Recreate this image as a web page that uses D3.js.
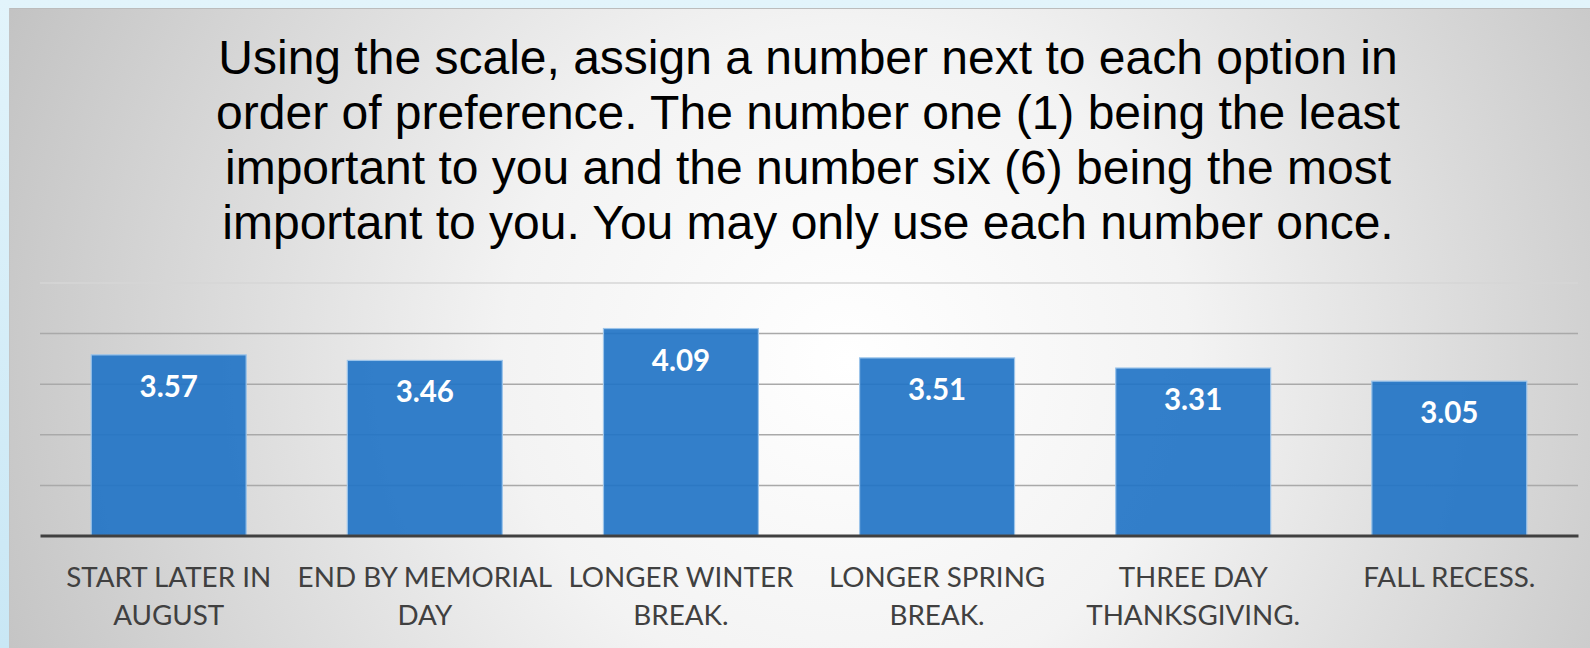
<!DOCTYPE html>
<html>
<head>
<meta charset="utf-8">
<script src="https://cdn.jsdelivr.net/npm/d3@7"></script>
<style>
  html, body { margin: 0; padding: 0; background: #dff2fa; }
  svg { display: block; }
</style>
</head>
<body>
<div id="chart"></div>
<script>
// chart data
const categories = [
    ["START LATER IN", "AUGUST"],
    ["END BY MEMORIAL", "DAY"],
    ["LONGER WINTER", "BREAK."],
    ["LONGER SPRING", "BREAK."],
    ["THREE DAY", "THANKSGIVING."],
    ["FALL RECESS."]
];
const values = [3.57, 3.46, 4.09, 3.51, 3.31, 3.05];
const gridTicks = [1, 2, 3, 4, 5];
const titleLines = [
    "Using the scale, assign a number next to each option in",
    "order of preference. The number one (1) being the least",
    "important to you and the number six (6) being the most",
    "important to you. You may only use each number once."
];

const width = 1590, height = 648;
const margin = {top: 282.5, right: 12, bottom: 112.5, left: 40};

const svg = d3.select("#chart").append("svg").attr("width", width).attr("height", height);
const defs = svg.append("defs");

// outer light blue frame
const frame = defs.append("linearGradient").attr("id", "frame").attr("x1", 0).attr("x2", 0).attr("y1", 0).attr("y2", 1);
frame.append("stop").attr("offset", "0%").attr("stop-color", "#e2f4fb");
frame.append("stop").attr("offset", "100%").attr("stop-color", "#c9e7f5");
svg.append("rect").attr("width", width).attr("height", height).attr("fill", "url(#frame)");

// panel background
const bg = defs.append("radialGradient").attr("id", "bg")
    .attr("cx", "0.53").attr("cy", "0.55").attr("r", "0.62")
    .attr("gradientTransform", "translate(0.53,0.55) scale(1,2.4) translate(-0.53,-0.55)");
bg.append("stop").attr("offset", "0%").attr("stop-color", "#ffffff");
bg.append("stop").attr("offset", "35%").attr("stop-color", "#f3f3f3");
bg.append("stop").attr("offset", "100%").attr("stop-color", "#bdbdbd");
svg.append("rect").attr("x", 9).attr("y", 8).attr("width", width - 9).attr("height", height - 8)
    .attr("fill", "url(#bg)");
svg.append("line").attr("x1", 9).attr("x2", width).attr("y1", 8.5).attr("y2", 8.5)
    .attr("stroke", "#bcbcbc").attr("stroke-width", 1);
svg.append("line").attr("x1", 9.5).attr("x2", 9.5).attr("y1", 8).attr("y2", height)
    .attr("stroke", "#c4c4c4").attr("stroke-width", 1);

// title
svg.append("text")
    .attr("text-anchor", "middle")
    .style("font-family", "'Liberation Sans', Arial, sans-serif")
    .style("font-size", "48px")
    .style("fill", "#000")
    .selectAll("tspan").data(titleLines).enter().append("tspan")
    .attr("x", 808).attr("y", (d, i) => 74 + i * 55)
    .text(d => d);

// scales
const xScale = d3.scaleBand().domain(d3.range(categories.length))
    .range([margin.left, width - margin.right]).paddingInner(0.395).paddingOuter(0.2);
const yScale = d3.scaleLinear().domain([0, 5]).range([height - margin.bottom, margin.top]);

// gridlines
const grid = svg.append("g").attr("transform", `translate(${margin.left}, 0)`)
    .call(d3.axisLeft(yScale).tickValues(gridTicks).tickSize(-(width - margin.right - margin.left)).tickFormat(""));
grid.select(".domain").remove();
grid.selectAll(".tick line").attr("stroke", d => d === 5 ? "#d6d6d6" : "#a9a9a9").attr("stroke-width", 1.5);

// bars
svg.selectAll("rect.bar").data(values).enter().append("rect")
    .attr("class", "bar")
    .attr("x", (d, i) => xScale(i))
    .attr("y", d => yScale(d))
    .attr("width", xScale.bandwidth())
    .attr("height", d => yScale(0) - yScale(d))
    .attr("fill", "#2274c6").attr("fill-opacity", 0.92)
    .attr("stroke", "#9cc4ea").attr("stroke-width", 1.2);

// value labels
svg.selectAll(".bar-label").data(values).enter().append("text")
    .attr("class", "bar-label")
    .attr("x", (d, i) => xScale(i) + xScale.bandwidth() / 2)
    .attr("y", d => yScale(d) + 42)
    .attr("text-anchor", "middle")
    .style("font-family", "Lato, 'Open Sans', sans-serif")
    .style("font-weight", "bold")
    .style("font-size", "29.5px")
    .style("fill", "#fff")
    .text(d => d.toFixed(2));

// x axis
const xAxis = svg.append("g").attr("transform", `translate(0, ${yScale(0)})`)
    .call(d3.axisBottom(xScale).tickSize(0).tickFormat(""));
xAxis.select(".domain").attr("stroke", "#404040").attr("stroke-width", 3);

xAxis.selectAll(".tick").append("text")
    .attr("text-anchor", "middle")
    .style("font-family", "Lato, 'Open Sans', sans-serif")
    .style("font-size", "27.8px")
    .style("fill", "#404040")
    .selectAll("tspan").data(i => categories[i]).enter().append("tspan")
    .attr("x", 0).attr("y", (d, j) => 51 + j * 38)
    .text(d => d);
</script>
</body>
</html>
